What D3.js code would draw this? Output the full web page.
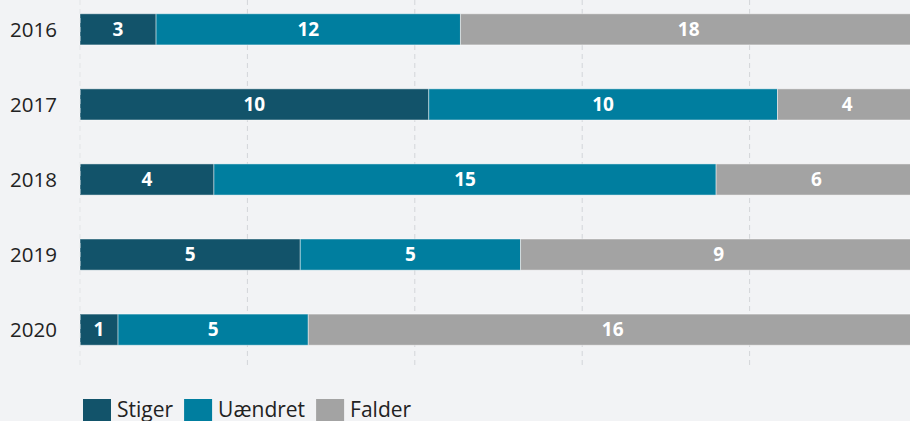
<!DOCTYPE html>
<html><head><meta charset="utf-8">
<script src="https://cdn.jsdelivr.net/npm/d3@7"></script>
<style>
html,body{margin:0;padding:0;background:#f2f3f5;overflow:hidden}
svg{display:block;font-family:"Open Sans","Noto Sans",sans-serif}
</style></head><body>
<svg id="c" width="910" height="421"></svg>
<script>
const years = ["2016","2017","2018","2019","2020"];
const seriesNames = ["Stiger","Uændret","Falder"];
const stiger = [3,10,4,5,1];
const uaendret = [12,10,15,5,5];
const falder = [18,4,6,9,16];
const colors = ["#12536a","#007e9f","#a3a3a3"];
const ticks = [0,0.2,0.4,0.6,0.8,1];

const rows = years.map((y,i)=>({year:y, Stiger:stiger[i], "Uændret":uaendret[i], Falder:falder[i]}));
const svg = d3.select("#c");
const x = d3.scaleLinear().domain([0,1]).range([80,917]);
const y = d3.scaleBand().domain(years).range([-8,367]).paddingInner(0.585).paddingOuter(0.29);

// grid
svg.append("g").selectAll("line").data(ticks).join("line")
  .attr("x1",d=>x(d)).attr("x2",d=>x(d)).attr("y1",0).attr("y2",368)
  .attr("stroke","#d3d5d9").attr("stroke-width",1).attr("stroke-dasharray","5,4");

const norm = rows.map(r=>{const t=r.Stiger+r["Uændret"]+r.Falder; const o={year:r.year}; seriesNames.forEach(k=>o[k]=r[k]/t); o.raw=r; return o;});
const stack = d3.stack().keys(seriesNames)(norm);

const g = svg.append("g");
stack.forEach((s,si)=>{
  const gs = g.append("g");
  gs.selectAll("rect").data(s).join("rect")
    .attr("x",d=>x(d[0])).attr("width",d=>x(d[1])-x(d[0]))
    .attr("y",d=>y(d.data.year)).attr("height",y.bandwidth())
    .attr("fill",colors[si]).attr("stroke","rgba(255,255,255,0.45)").attr("stroke-width",1);
  gs.selectAll("text").data(s).join("text")
    .attr("x",d=>(x(d[0])+x(d[1]))/2).attr("y",d=>y(d.data.year)+y.bandwidth()/2)
    .attr("dy","0.36em").attr("text-anchor","middle")
    .attr("fill","#fff").attr("font-weight","bold").attr("font-size",19)
    .text(d=>d.data.raw[s.key]);
});

// left dashed line over bars
svg.append("line").attr("x1",x(0)).attr("x2",x(0)).attr("y1",0).attr("y2",368)
  .attr("stroke","rgba(255,255,255,0.6)").attr("stroke-dasharray","5,4");

// y labels
svg.append("g").selectAll("text").data(years).join("text")
  .attr("x",57).attr("y",d=>y(d)+y.bandwidth()/2).attr("dy","0.36em")
  .attr("text-anchor","end").attr("fill","#222").attr("font-size",20.5).text(d=>d);

// legend
const lg = svg.append("g");
let lx = 83;
seriesNames.forEach((n,i)=>{
  lg.append("rect").attr("x",lx).attr("y",399).attr("width",28).attr("height",28).attr("fill",colors[i]);
  const t = lg.append("text").attr("x",lx+34).attr("y",417).attr("font-size",21).attr("fill","#222").text(n);
  lx += 34 + t.node().getComputedTextLength() + 11;
});
</script>
</body></html>
